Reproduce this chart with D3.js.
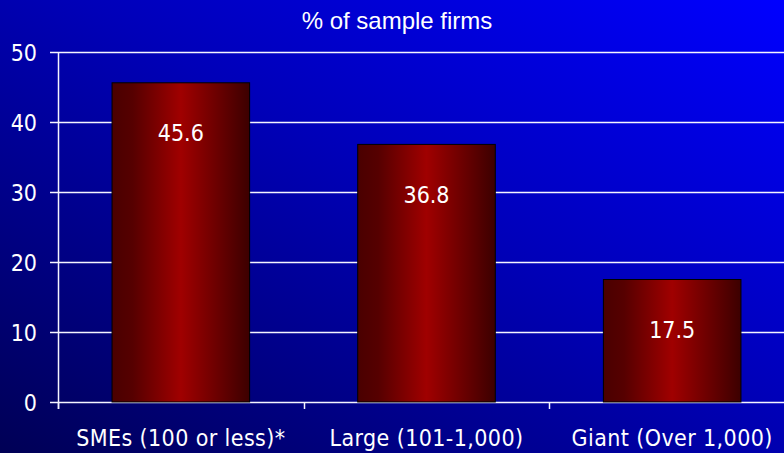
<!DOCTYPE html>
<html>
<head>
<meta charset="utf-8">
<script src="https://cdn.jsdelivr.net/npm/d3@7"></script>
<style>
  body { margin: 0; padding: 0; overflow: hidden; }
  svg { display: block; }
</style>
</head>
<body>
<div id="chart"></div>
<script>
// data
var categories = ["SMEs (100 or less)*", "Large (101-1,000)", "Giant (Over 1,000)"];
var values = [45.6, 36.8, 17.5];
var yTicks = [0, 10, 20, 30, 40, 50];
var title = "% of sample firms";

var W = 784, H = 453;
var margin = { top: 52, right: -11, bottom: 51, left: 58 };
var width = W - margin.left - margin.right,
    height = H - margin.top - margin.bottom;

var svg = d3.select("#chart").append("svg")
    .attr("width", W)
    .attr("height", H);

var defs = svg.append("defs");

// background: dark navy bottom-left to bright blue top-right
var bg = defs.append("linearGradient")
    .attr("id", "bg")
    .attr("x1", "0%").attr("y1", "100%")
    .attr("x2", "100%").attr("y2", "0%");
bg.append("stop").attr("offset", "0%").attr("stop-color", "#000055");
bg.append("stop").attr("offset", "55%").attr("stop-color", "#0000b8");
bg.append("stop").attr("offset", "100%").attr("stop-color", "#0000ff");

// bar fill: dark red edges, bright red middle
var bar = defs.append("linearGradient")
    .attr("id", "barfill")
    .attr("x1", "0%").attr("y1", "0%")
    .attr("x2", "100%").attr("y2", "0%");
bar.append("stop").attr("offset", "0%").attr("stop-color", "#4a0000");
bar.append("stop").attr("offset", "15%").attr("stop-color", "#560000");
bar.append("stop").attr("offset", "50%").attr("stop-color", "#a00000");
bar.append("stop").attr("offset", "85%").attr("stop-color", "#5a0000");
bar.append("stop").attr("offset", "100%").attr("stop-color", "#3c0000");

svg.append("rect")
    .attr("width", W).attr("height", H)
    .attr("fill", "url(#bg)");

svg.append("text")
    .attr("x", 397)
    .attr("y", 29)
    .attr("text-anchor", "middle")
    .attr("fill", "#ffffff")
    .style("font-family", "'Liberation Sans', Arial, sans-serif")
    .style("font-size", "24px")
    .text(title);

var g = svg.append("g")
    .attr("transform", "translate(" + margin.left + "," + margin.top + ")");

var x = d3.scaleBand()
    .domain(categories)
    .range([0, width])
    .paddingInner(0.44)
    .paddingOuter(0.22);

var y = d3.scaleLinear()
    .domain([0, 50])
    .range([height, 0]);

var font = "'DejaVu Sans Condensed', 'DejaVu Sans', sans-serif";

// gridlines
g.selectAll(".grid")
    .data(yTicks)
    .enter()
    .append("line")
    .attr("x1", 0)
    .attr("x2", W)
    .attr("y1", function(d) { return Math.round(y(d)) + 0.5; })
    .attr("y2", function(d) { return Math.round(y(d)) + 0.5; })
    .attr("stroke", "#f4f4ff")
    .attr("stroke-width", 1.5);

// y axis
var yAxis = g.append("g")
    .call(d3.axisLeft(y).tickValues(yTicks).tickSize(8).tickPadding(13));
yAxis.select(".domain").remove();
yAxis.selectAll("line").attr("stroke", "#f4f4ff").attr("stroke-width", 1.5);
yAxis.selectAll("text")
    .attr("fill", "#ffffff")
    .attr("dy", "0.36em")
    .style("font-family", font)
    .style("font-size", "23px");

g.append("line")
    .attr("x1", 0.5).attr("x2", 0.5)
    .attr("y1", 0).attr("y2", height + 7)
    .attr("stroke", "#f4f4ff")
    .attr("stroke-width", 1.5);

// category boundary ticks on x axis
var step = x.step();
g.selectAll(".xtick")
    .data(d3.range(categories.length + 1))
    .enter()
    .append("line")
    .attr("x1", function(i) { return Math.round(i * step) + 0.5; })
    .attr("x2", function(i) { return Math.round(i * step) + 0.5; })
    .attr("y1", height)
    .attr("y2", height + 7)
    .attr("stroke", "#f4f4ff")
    .attr("stroke-width", 1.5);

// bars
g.selectAll(".bar")
    .data(values)
    .enter()
    .append("rect")
    .attr("x", function(d, i) { return x(categories[i]); })
    .attr("y", function(d) { return y(d); })
    .attr("width", x.bandwidth())
    .attr("height", function(d) { return height - y(d); })
    .attr("fill", "url(#barfill)")
    .attr("stroke", "#000000")
    .attr("stroke-width", 1);

// value labels
g.selectAll(".val")
    .data(values)
    .enter()
    .append("text")
    .attr("x", function(d, i) { return x(categories[i]) + x.bandwidth() / 2; })
    .attr("y", function(d) { return y(d) + 58.5; })
    .attr("text-anchor", "middle")
    .attr("fill", "#ffffff")
    .style("font-family", font)
    .style("font-size", "23px")
    .text(function(d) { return d.toFixed(1); });

// category labels
g.selectAll(".cat")
    .data(categories)
    .enter()
    .append("text")
    .attr("x", function(d) { return x(d) + x.bandwidth() / 2; })
    .attr("y", height + 44)
    .attr("text-anchor", "middle")
    .attr("fill", "#ffffff")
    .style("font-family", font)
    .style("font-size", "23px")
    .style("letter-spacing", "0.4px")
    .text(function(d) { return d; });
</script>
</body>
</html>
